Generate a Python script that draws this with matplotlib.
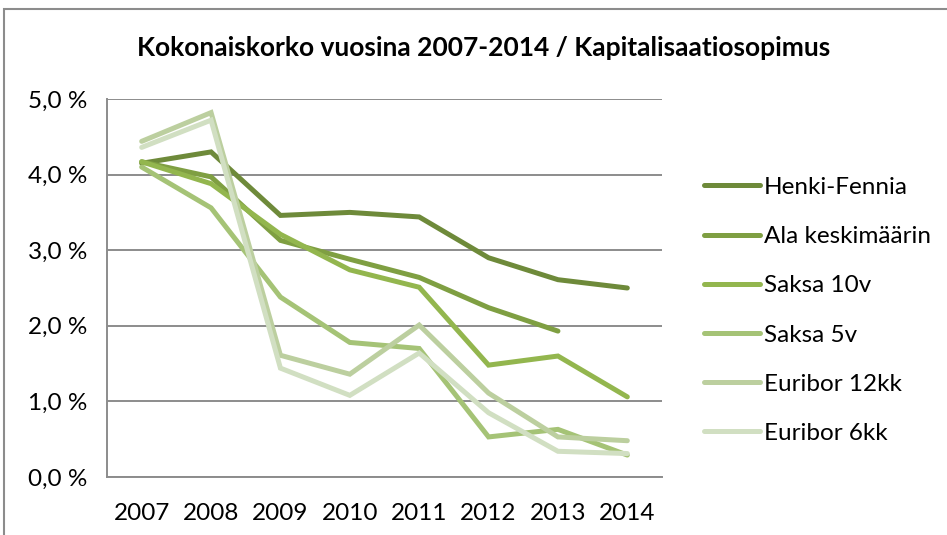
import matplotlib
matplotlib.use("Agg")
import matplotlib.pyplot as plt
from matplotlib.patches import Rectangle
from matplotlib.ticker import FuncFormatter

years = ["2007", "2008", "2009", "2010", "2011", "2012", "2013", "2014"]

henki_fennia = [4.15, 4.30, 3.46, 3.50, 3.44, 2.90, 2.61, 2.50]
ala_keskimaarin = [4.17, 3.97, 3.13, 2.88, 2.64, 2.24, 1.93, None]
saksa_10v = [4.17, 3.88, 3.21, 2.74, 2.51, 1.48, 1.60, 1.06]
saksa_5v = [4.10, 3.56, 2.38, 1.78, 1.70, 0.53, 0.63, 0.29]
euribor_12kk = [4.44, 4.82, 1.61, 1.36, 2.01, 1.11, 0.53, 0.48]
euribor_6kk = [4.36, 4.72, 1.44, 1.08, 1.64, 0.85, 0.34, 0.31]

series = [
    ("Henki-Fennia", henki_fennia, "#6e8a3a"),
    ("Ala keskimäärin", ala_keskimaarin, "#7f9f42"),
    ("Saksa 10v", saksa_10v, "#93b64e"),
    ("Saksa 5v", saksa_5v, "#a5c376"),
    ("Euribor 12kk", euribor_12kk, "#bccf9f"),
    ("Euribor 6kk", euribor_6kk, "#d1dfc2"),
]

plt.rcParams['font.family'] = ['Lato', 'DejaVu Sans']

fig = plt.figure(figsize=(9.47, 5.35), dpi=100)
# outer chart frame, only top and left edges fall inside the picture
fig.patches.append(Rectangle((4 / 947, -0.1), 1.2, (535 - 9) / 535 + 0.1,
                             transform=fig.transFigure, fill=False,
                             edgecolor="#8c8c8c", linewidth=1.5))

ax = fig.add_axes([107 / 947, 58 / 535, 555 / 947, 378 / 535])
x = list(range(len(years)))
for name, vals, col in series:
    xs = [i for i, v in zip(x, vals) if v is not None]
    ys = [v for v in vals if v is not None]
    ax.plot(xs, ys, color=col, linewidth=3.6, solid_capstyle="round",
            solid_joinstyle="miter", label=name)

ax.set_xlim(-0.5, len(years) - 0.5)
ax.set_ylim(0, 5)
ax.set_yticks([0, 1, 2, 3, 4, 5])
ax.yaxis.set_major_formatter(FuncFormatter(lambda v, p: f"{v:.1f}".replace(".", ",") + " %"))
ax.set_xticks(x)
ax.set_xticklabels(years)
ax.grid(axis="y", color="#8c8c8c", linewidth=1.4)
ax.set_axisbelow(True)
for s in ["top", "right"]:
    ax.spines[s].set_visible(False)
for s in ["left", "bottom"]:
    ax.spines[s].set_color("#8c8c8c")
    ax.spines[s].set_linewidth(1.4)
ax.tick_params(axis="both", length=0, labelsize=17.5, colors="#000000")
ax.tick_params(axis="y", pad=14)
ax.tick_params(axis="x", pad=19)

fig.text(484 / 947, 1 - 48 / 535, "Kokonaiskorko vuosina 2007-2014 / Kapitalisaatiosopimus",
         ha="center", va="center", fontsize=19, fontweight="bold")

fig.legend(loc="upper left", bbox_to_anchor=(682 / 947, 1 - 155 / 535), frameon=False,
           fontsize=17.5, handlelength=2.3, handletextpad=0.18, labelspacing=1.16)

fig.savefig("out.png", dpi=100)
